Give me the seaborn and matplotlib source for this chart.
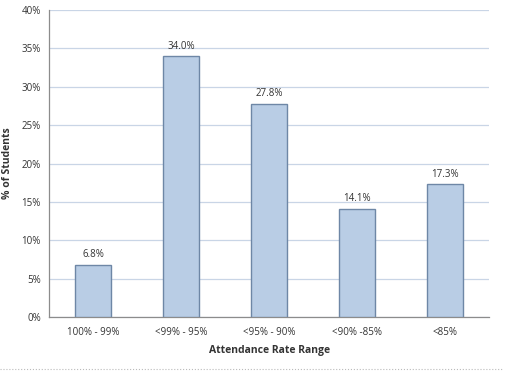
import matplotlib
matplotlib.use("Agg")
import matplotlib.pyplot as plt
import seaborn as sns
import pandas as pd
from matplotlib.lines import Line2D
from matplotlib.ticker import FuncFormatter

categories = ["100% - 99%", "<99% - 95%", "<95% - 90%", "<90% -85%", "<85%"]
values = [6.8, 34.0, 27.8, 14.1, 17.3]
y_ticks = [0, 5, 10, 15, 20, 25, 30, 35, 40]

df = pd.DataFrame({"range": categories, "pct": values})

sns.set_style("white")
plt.rcParams["font.family"] = ["Open Sans", "DejaVu Sans"]

fig = plt.figure(figsize=(5.07, 3.88), dpi=100)
ax = fig.add_axes([0.097, 0.183, 0.868, 0.791])

sns.barplot(data=df, x="range", y="pct", color="#B9CDE5", width=0.41,
            edgecolor="#6E87A6", linewidth=1.0, saturation=1, ax=ax, zorder=3)

ax.set_ylim(0, 40)
ax.set_xlim(-0.5, 4.5)
ax.set_yticks(y_ticks)
ax.yaxis.set_major_formatter(FuncFormatter(lambda v, p: f"{v:.0f}%"))
ax.grid(axis="y", color="#C9D5E6", linewidth=0.9, zorder=0)
ax.set_axisbelow(True)

for s in ["top", "right"]:
    ax.spines[s].set_visible(False)
for s in ["left", "bottom"]:
    ax.spines[s].set_color("#8C8C8C")
    ax.spines[s].set_linewidth(0.9)

# ticks between categories on the x axis
ax.set_xticks([i - 0.5 for i in range(6)], minor=False)
ax.set_xticklabels([])
ax.set_xticks(range(5), minor=True)
ax.set_xticklabels(categories, minor=True)
ax.tick_params(axis="x", which="major", direction="out", length=5, color="#8C8C8C", width=0.9)
ax.tick_params(axis="x", which="minor", length=0, labelsize=7, labelcolor="#333333", pad=7)
ax.tick_params(axis="y", direction="out", length=4, color="#8C8C8C", width=0.9,
               labelsize=7, labelcolor="#333333", pad=2)

for i, v in enumerate(values):
    ax.text(i, v + 0.6, f"{v:.1f}%", ha="center", va="bottom", fontsize=7, color="#333333")

ax.set_xlabel("Attendance Rate Range", fontsize=7.5, fontweight="bold", color="#333333", labelpad=5)
ax.set_ylabel("% of Students", fontsize=7.5, fontweight="bold", color="#333333", labelpad=6)

fig.add_artist(Line2D([0.0, 0.99], [0.049, 0.049], transform=fig.transFigure,
                      color="#BBBBBB", linestyle=":", linewidth=0.8))

fig.savefig("out.png", dpi=100, facecolor="white")
